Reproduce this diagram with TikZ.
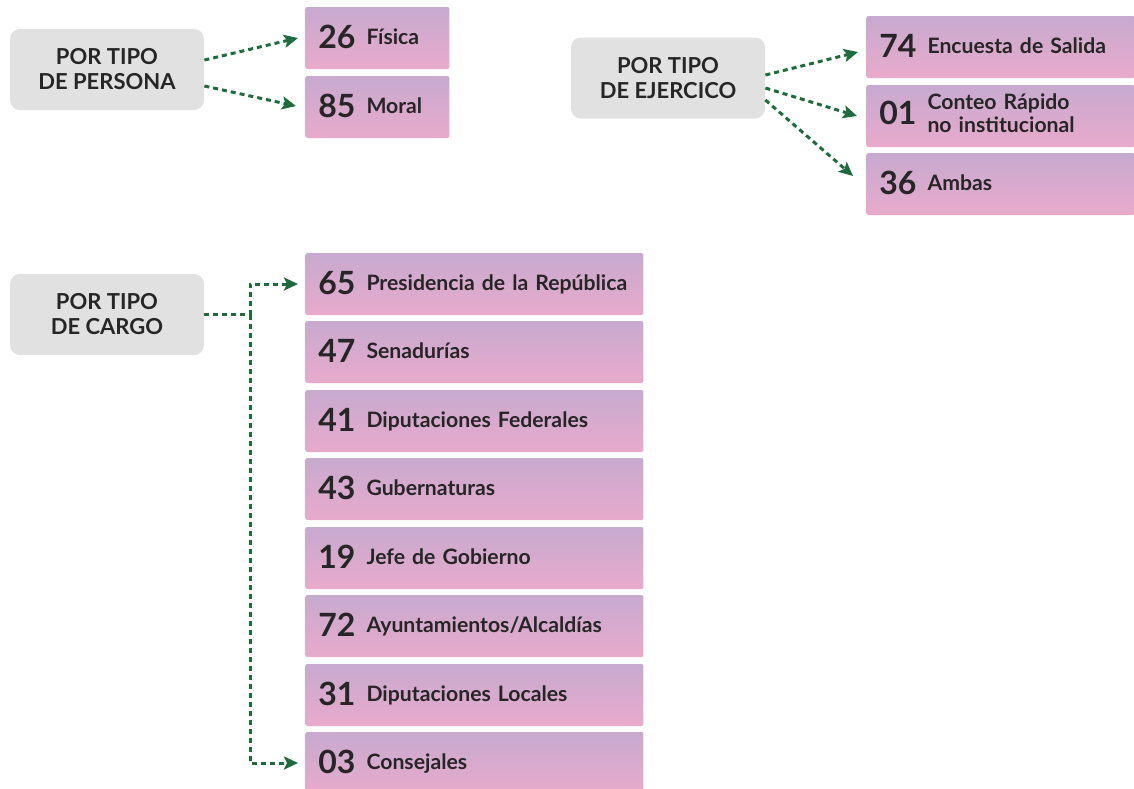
\documentclass[tikz,border=0pt]{standalone}
\usepackage{fontspec}
\setmainfont{Lato}
\usepackage{xcolor}
\usetikzlibrary{arrows.meta}

\definecolor{catgray}{HTML}{E0E1E0}
\definecolor{itemtop}{HTML}{C7AACF}
\definecolor{itembot}{HTML}{E8AACC}
\definecolor{ink}{HTML}{262626}
\definecolor{arrgreen}{HTML}{1F6B3C}

% number + label inside a purple box
\newcommand{\cnt}[2]{\raisebox{-0.5pt}{$\vcenter{\hbox{\fontsize{16}{16}\selectfont #1}}$}\hspace{5.5pt}\raisebox{-2pt}{$\vcenter{\hbox{\begin{tabular}{@{}l@{}}#2\end{tabular}}}$}}

\begin{document}
\begin{tikzpicture}[x=0.5pt, y=-0.5pt,
  cat/.style={fill=catgray, rounded corners=5pt, minimum width=97pt,
              minimum height=40.5pt, align=center, text=ink,
              font=\bfseries\fontsize{11}{12.5}\selectfont},
  item/.style={anchor=west, rounded corners=1pt, top color=itemtop,
               bottom color=itembot, minimum height=31pt, inner xsep=6.5pt,
               text=ink, align=left, font=\bfseries\fontsize{10.6}{11.5}\selectfont},
  narrow/.style={item, text width=59pt},
  mid/.style={item, text width=121pt},
  wide/.style={item, text width=156pt},
  arr/.style={-{Stealth[length=7pt, width=6.5pt, inset=1.5pt]}, line width=1.5pt,
              dash pattern=on 2.5pt off 2pt, arrgreen}
]
\useasboundingbox (0,0) rectangle (1134,788);

% categories
\node[cat] (persona)   at (107,69.5) {POR TIPO\\DE PERSONA};
\node[cat] (ejercicio) at (668,78)   {POR TIPO\\DE EJERCICO};
\node[cat] (cargo)     at (107,314.5) {POR TIPO\\DE CARGO};

% por tipo de persona
\node[narrow] (fisica) at (305,38)  {\cnt{26}{Física}};
\node[narrow] (moral)  at (305,107) {\cnt{85}{Moral}};

% por tipo de ejercicio
\node[mid] (encuesta) at (866,47)  {\cnt{74}{Encuesta de Salida}};
\node[mid] (conteo)   at (866,116) {\cnt{01}{Conteo Rápido\\no institucional}};
\node[mid] (ambas)    at (866,184) {\cnt{36}{Ambas}};

% por tipo de cargo
\node[wide] (pres)   at (305,284) {\cnt{65}{Presidencia de la República}};
\node[wide] (sen)    at (305,352) {\cnt{47}{Senadurías}};
\node[wide] (dipfed) at (305,421) {\cnt{41}{Diputaciones Federales}};
\node[wide] (gub)    at (305,489) {\cnt{43}{Gubernaturas}};
\node[wide] (jefe)   at (305,558) {\cnt{19}{Jefe de Gobierno}};
\node[wide] (ayunt)  at (305,626) {\cnt{72}{Ayuntamientos/Alcaldías}};
\node[wide] (diploc) at (305,695) {\cnt{31}{Diputaciones Locales}};
\node[wide] (cons)   at (305,763) {\cnt{03}{Consejales}};

% connectors
\draw[arr] ([yshift=4.75pt]persona.east) -- ([xshift=-3.5pt]fisica.west);
\draw[arr] ([yshift=-8.25pt]persona.east) -- ([xshift=-4.5pt,yshift=0.5pt]moral.west);

\draw[arr] ([yshift=1.5pt]ejercicio.east) -- ([xshift=-4pt,yshift=-2.5pt]encuesta.west);
\draw[arr] ([yshift=-5pt]ejercicio.east) -- ([xshift=-4.5pt]conteo.west);
\draw[arr] ([yshift=-11pt]ejercicio.east) -- ([xshift=-6.5pt,yshift=4pt]ambas.west);

\coordinate (split) at (250,314.5);
\draw[arr] (cargo.east) -- (split) |- ([xshift=-3.5pt]pres.west);
\draw[arr] (split) |- ([xshift=-3.5pt]cons.west);

\end{tikzpicture}
\end{document}
